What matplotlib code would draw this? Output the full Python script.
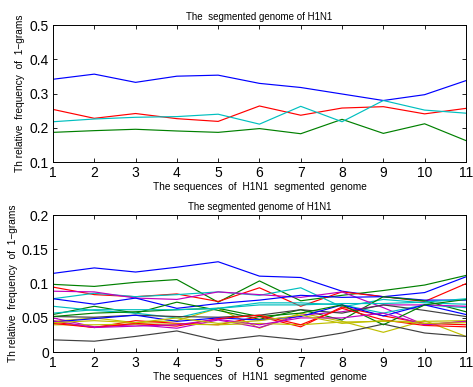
import matplotlib
matplotlib.use('Agg')
import matplotlib.pyplot as plt

# sequence index (segments 1..11)
seg = list(range(1, 12))

# nucleotide relative frequencies per segment
nt_blue = [0.342, 0.357, 0.333, 0.351, 0.354, 0.330, 0.318, 0.299, 0.280, 0.297, 0.338]
nt_green = [0.187, 0.192, 0.196, 0.191, 0.187, 0.198, 0.183, 0.225, 0.184, 0.212, 0.163]
nt_red = [0.254, 0.228, 0.242, 0.227, 0.219, 0.264, 0.237, 0.258, 0.262, 0.241, 0.257]
nt_cyan = [0.218, 0.226, 0.231, 0.233, 0.240, 0.211, 0.263, 0.218, 0.280, 0.252, 0.243]

# amino acid relative frequencies per segment (20 series)
aa_01 = [0.115, 0.123, 0.117, 0.124, 0.132, 0.111, 0.109, 0.089, 0.081, 0.087, 0.110]
aa_02 = [0.099, 0.096, 0.102, 0.106, 0.073, 0.104, 0.075, 0.083, 0.090, 0.098, 0.112]
aa_03 = [0.095, 0.084, 0.081, 0.085, 0.074, 0.094, 0.067, 0.088, 0.081, 0.074, 0.100]
aa_04 = [0.078, 0.086, 0.081, 0.084, 0.088, 0.083, 0.094, 0.066, 0.077, 0.072, 0.070]
aa_05 = [0.089, 0.088, 0.079, 0.077, 0.088, 0.084, 0.080, 0.088, 0.065, 0.040, 0.045]
aa_06 = [0.045, 0.050, 0.043, 0.046, 0.064, 0.035, 0.057, 0.045, 0.029, 0.046, 0.023]
aa_07 = [0.018, 0.016, 0.023, 0.031, 0.017, 0.024, 0.018, 0.028, 0.041, 0.028, 0.023]
aa_08 = [0.078, 0.070, 0.079, 0.064, 0.071, 0.076, 0.083, 0.080, 0.081, 0.076, 0.076]
aa_09 = [0.055, 0.067, 0.057, 0.073, 0.061, 0.048, 0.062, 0.047, 0.081, 0.075, 0.059]
aa_10 = [0.044, 0.036, 0.046, 0.042, 0.040, 0.052, 0.037, 0.066, 0.053, 0.042, 0.040]
aa_11 = [0.067, 0.061, 0.057, 0.050, 0.064, 0.072, 0.072, 0.069, 0.057, 0.069, 0.065]
aa_12 = [0.050, 0.037, 0.040, 0.035, 0.047, 0.036, 0.054, 0.059, 0.069, 0.069, 0.067]
aa_13 = [0.040, 0.040, 0.041, 0.041, 0.040, 0.042, 0.040, 0.044, 0.045, 0.045, 0.046]
aa_14 = [0.052, 0.051, 0.054, 0.052, 0.051, 0.054, 0.062, 0.057, 0.069, 0.061, 0.052]
aa_15 = [0.044, 0.049, 0.054, 0.045, 0.050, 0.047, 0.052, 0.069, 0.053, 0.069, 0.055]
aa_16 = [0.052, 0.057, 0.059, 0.062, 0.064, 0.052, 0.057, 0.069, 0.040, 0.069, 0.077]
aa_17 = [0.042, 0.036, 0.042, 0.038, 0.049, 0.054, 0.040, 0.064, 0.047, 0.039, 0.037]
aa_18 = [0.057, 0.062, 0.062, 0.062, 0.064, 0.069, 0.069, 0.071, 0.071, 0.073, 0.078]
aa_19 = [0.046, 0.036, 0.038, 0.040, 0.048, 0.040, 0.050, 0.050, 0.057, 0.040, 0.045]
aa_20 = [0.043, 0.046, 0.043, 0.050, 0.042, 0.046, 0.054, 0.042, 0.046, 0.042, 0.043]

aa_series = [aa_01, aa_02, aa_03, aa_04, aa_05, aa_06, aa_07, aa_08, aa_09, aa_10,
             aa_11, aa_12, aa_13, aa_14, aa_15, aa_16, aa_17, aa_18, aa_19, aa_20]

# classic MATLAB line color order: b g r c m y k
cycle = [(0, 0, 1), (0, 0.5, 0), (1, 0, 0), (0, 0.75, 0.75),
         (0.75, 0, 0.75), (0.75, 0.75, 0), (0.25, 0.25, 0.25)]

plt.rcParams['font.family'] = ['Liberation Sans', 'DejaVu Sans']

fig = plt.figure(figsize=(4.73, 3.87), dpi=100)
ax1 = fig.add_axes([0.112, 0.581, 0.873, 0.354])
ax2 = fig.add_axes([0.112, 0.090, 0.873, 0.354])

for i, s in enumerate([nt_blue, nt_green, nt_red, nt_cyan]):
    ax1.plot(seg, s, color=cycle[i % 7], lw=0.85)
for i, s in enumerate(aa_series):
    ax2.plot(seg, s, color=cycle[i % 7], lw=0.85)

ax1.set_ylim(0.1, 0.5)
ax1.set_yticks([0.1, 0.2, 0.3, 0.4, 0.5])
ax2.set_ylim(0, 0.2)
ax2.set_yticks([0, 0.05, 0.1, 0.15, 0.2])
ax2.set_yticklabels(['0', '0.05', '0.1', '0.15', '0.2'])

ax1.set_title('The  segmented genome of H1N1', fontsize=7, pad=4)
ax2.set_title('The segmented genome of H1N1', fontsize=7, pad=4)

for ax in (ax1, ax2):
    ax.set_xlim(1, 11)
    ax.set_xticks(seg)
    ax.tick_params(direction='in', top=True, right=True, labelsize=10,
                   length=3, width=0.6, pad=3)
    for sp in ax.spines.values():
        sp.set_linewidth(0.7)
    ax.set_xlabel('The sequences  of  H1N1  segmented  genome', fontsize=7.3, labelpad=1)
    ax.set_ylabel('Th relative  frequency  of  1\u2212grams', fontsize=7.3, labelpad=3)

fig.savefig('out.png', dpi=100)
